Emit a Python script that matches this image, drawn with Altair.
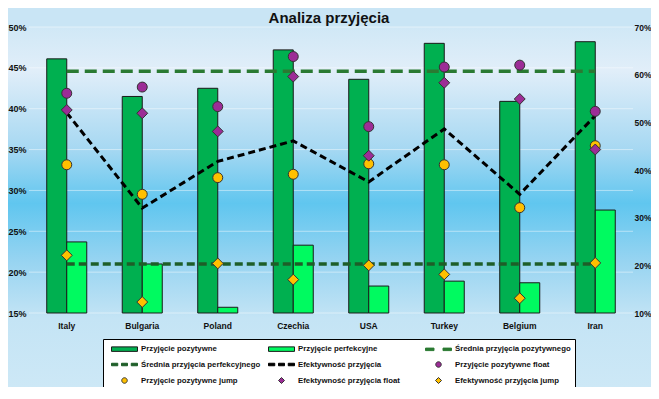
import altair as alt
import pandas as pd

# ---------------- data ----------------
countries = ["Italy", "Bulgaria", "Poland", "Czechia", "USA", "Turkey", "Belgium", "Iran"]

przyjecie_pozytywne = [46.1, 41.5, 42.5, 47.2, 43.6, 48.0, 40.9, 48.2]      # left axis (%)
przyjecie_perfekcyjne = [23.7, 21.0, 15.7, 23.3, 18.3, 18.9, 18.7, 27.6]    # left axis (%)
srednia_pozytywnego = 44.6                                                 # left axis (%)
srednia_perfekcyjnego = 21.0                                               # left axis (%)

efektywnosc = [52.0, 32.0, 41.8, 46.1, 37.5, 48.6, 34.9, 51.4]              # right axis (%)
pozytywne_float = [56.1, 57.4, 53.3, 63.8, 49.1, 61.6, 62.0, 52.3]          # right axis (%)
pozytywne_jump = [41.1, 34.9, 38.4, 39.1, 41.3, 41.1, 32.1, 45.1]           # right axis (%)
efektywnosc_float = [52.6, 51.9, 48.1, 59.6, 43.0, 58.3, 54.9, 44.3]        # right axis (%)
efektywnosc_jump = [22.1, 12.3, 20.4, 17.0, 20.0, 18.1, 13.1, 20.5]         # right axis (%)

series_names = [
    "Przyjęcie pozytywne",
    "Przyjęcie perfekcyjne",
    "Średnia przyjęcia pozytywnego",
    "Średnia przyjęcia perfekcyjnego",
    "Efektywność przyjęcia",
    "Przyjęcie pozytywne float",
    "Przyjęcie pozytywne jump",
    "Efektywność przyjęcia float",
    "Efektywność przyjęcia jump",
]
left_ticks = [15, 20, 25, 30, 35, 40, 45, 50]
right_ticks = [10, 20, 30, 40, 50, 60, 70]

# ---------------- styles ----------------
W, H = 604, 286
PAD = {"left": 21, "top": 19, "right": 18, "bottom": 74}
FONT = "Liberation Sans"

series_colors = ["#00B050", "#00FA60", "#2A7A32", "#1E5E28", "#000000",
                 "#9C2C96", "#FFC000", "#9C2C96", "#FFC000"]
series_strokes = ["#1a1a1a", "#1a1a1a", "#2A7A32", "#1E5E28", "#000000",
                  "#333333", "#333333", "#333333", "#333333"]
RECT = "M-2.6,-0.45H2.6V0.45H-2.6Z"
DASH2 = "M-2.6,-0.25H-0.9V0.25H-2.6ZM0.9,-0.25H2.6V0.25H0.9Z"
DASH3 = ("M-2.6,-0.25H-1.35V0.25H-2.6ZM-0.6,-0.25H0.6V0.25H-0.6Z"
         "M1.35,-0.25H2.6V0.25H1.35Z")
CIRC = "M-0.55,0A0.55,0.55,0,1,0,0.55,0A0.55,0.55,0,1,0,-0.55,0Z"
DIAM = "M-0.6,0L0,-0.6L0.6,0L0,0.6Z"
series_shapes = [RECT, RECT, DASH2, DASH3, DASH3, CIRC, CIRC, DIAM, DIAM]

# ---------------- tables ----------------
pos_rows, perf_rows, avgp_rows, avgf_rows, eff_rows, pts_rows = [], [], [], [], [], []
for i, c in enumerate(countries):
    pos_rows.append({"country": c, "series": series_names[0], "value": przyjecie_pozytywne[i]})
    perf_rows.append({"country": c, "series": series_names[1], "value": przyjecie_perfekcyjne[i]})
    avgp_rows.append({"country": c, "value": srednia_pozytywnego})
    avgf_rows.append({"country": c, "value": srednia_perfekcyjnego})
    eff_rows.append({"country": c, "value": efektywnosc[i]})
ord_ = 0
for name, vals in [(series_names[5], pozytywne_float), (series_names[6], pozytywne_jump),
                   (series_names[7], efektywnosc_float), (series_names[8], efektywnosc_jump)]:
    for i, c in enumerate(countries):
        pts_rows.append({"country": c, "series": name, "value": vals[i], "ord": ord_})
        ord_ += 1

pos_df = pd.DataFrame(pos_rows)
perf_df = pd.DataFrame(perf_rows)
avgp_df = pd.DataFrame(avgp_rows)
avgf_df = pd.DataFrame(avgf_rows)
eff_df = pd.DataFrame(eff_rows)
pts_df = pd.DataFrame(pts_rows)
grid_df = pd.DataFrame({"tick": left_ticks})

# ---------------- scales / axes ----------------
x_axis = alt.Axis(labelAngle=0, ticks=False, domain=False, grid=False, zindex=1,
                  labelFont=FONT, labelFontSize=8.5, labelFontWeight="bold",
                  labelColor="#111111", labelPadding=8)
x_enc = alt.X("country:N", sort=countries, title=None, axis=x_axis,
              scale=alt.Scale(type="band", domain=countries, paddingInner=0.47, paddingOuter=0.235))
xoff_enc = alt.XOffset("series:N", sort=series_names[:2],
                       scale=alt.Scale(domain=series_names[:2], paddingInner=0, paddingOuter=0))

left_scale = alt.Scale(domain=[15, 50], nice=False, zero=False)
right_scale = alt.Scale(domain=[10, 70], nice=False, zero=False)
left_axis = alt.Axis(orient="left", values=left_ticks, labelExpr="datum.value + '%'",
                     grid=False, ticks=False, domain=False, zindex=1,
                     labelFont=FONT, labelFontSize=9,
                     labelFontWeight="bold", labelColor="#111111", labelPadding=3)
right_axis = alt.Axis(orient="right", values=right_ticks, labelExpr="datum.value + '%'",
                      grid=False, ticks=False, domain=False, zindex=1,
                      labelFont=FONT, labelFontSize=8.5,
                      labelFontWeight="bold", labelColor="#111111", labelPadding=1)
yl = alt.Y("value:Q", scale=left_scale, axis=left_axis, title=None)
yr = alt.Y("value:Q", scale=right_scale, axis=right_axis, title=None)

legend = alt.Legend(title=None, orient="none", legendX=74, legendY=312, columns=3,
                    direction="horizontal", gridAlign="all", symbolSize=100,
                    symbolOffset=12, labelOffset=11, symbolStrokeWidth=1,
                    labelFont=FONT, labelFontSize=7.8, labelFontWeight="bold",
                    labelColor="#111111", labelLimit=250, padding=4, rowPadding=5,
                    columnPadding=3, fillColor="white", strokeColor="black", zindex=1)

# ---------------- background ----------------
grad = alt.LinearGradient(
    gradient="linear", x1=0, x2=0, y1=0, y2=1,
    stops=[
        alt.GradientStop(offset=0.0, color="#d0e8f6"),
        alt.GradientStop(offset=0.12, color="#e1eef9"),
        alt.GradientStop(offset=0.34, color="#a6d8f2"),
        alt.GradientStop(offset=0.49, color="#60c6ef"),
        alt.GradientStop(offset=0.65, color="#97d4f1"),
        alt.GradientStop(offset=0.81, color="#c4e4f5"),
        alt.GradientStop(offset=1.0, color="#cde8f6"),
    ],
)
bg = alt.Chart(alt.Data(values=[{"a": 1}])).mark_rect(fill=grad, strokeWidth=0).encode(
    x=alt.value(-PAD["left"]), x2=alt.value(W + PAD["right"]),
    y=alt.value(0), y2=alt.value(H + PAD["bottom"]),
)

# white gridlines at the left-axis ticks (behind bars)
grid = alt.Chart(grid_df).mark_rule(color="white", opacity=0.45, strokeWidth=1).encode(
    y=alt.Y("tick:Q", scale=left_scale, axis=left_axis, title=None),
)

# ---------------- layers ----------------
bars_pos = alt.Chart(pos_df).mark_bar(color=series_colors[0], stroke="#1a1a1a", strokeWidth=1).encode(
    x=x_enc, xOffset=xoff_enc, y=yl, y2=alt.datum(15))
bars_perf = alt.Chart(perf_df).mark_bar(color=series_colors[1], stroke="#1a1a1a", strokeWidth=1).encode(
    x=x_enc, xOffset=xoff_enc, y=yl, y2=alt.datum(15))

avg_pos = alt.Chart(avgp_df).mark_line(
    color=series_colors[2], strokeWidth=3.5, strokeDash=[12, 6]).encode(x=x_enc, y=yl)
avg_perf = alt.Chart(avgf_df).mark_line(
    color=series_colors[3], strokeWidth=3.5, strokeDash=[8, 4]).encode(x=x_enc, y=yl)

eff = alt.Chart(eff_df).mark_line(
    color=series_colors[4], strokeWidth=3, strokeDash=[7, 4]).encode(x=x_enc, y=yr)

pts = alt.Chart(pts_df).mark_point(filled=True, opacity=1, size=330, strokeWidth=1).encode(
    x=x_enc,
    y=yr,
    color=alt.Color("series:N", scale=alt.Scale(domain=series_names, range=series_colors), legend=legend),
    shape=alt.Shape("series:N", scale=alt.Scale(domain=series_names, range=series_shapes), legend=legend),
    stroke=alt.Stroke("series:N", scale=alt.Scale(domain=series_names, range=series_strokes), legend=legend),
    order=alt.Order("ord:Q"),
)

left = alt.layer(bg, grid, bars_pos, bars_perf, avg_pos, avg_perf)
right = alt.layer(eff, pts)

chart = alt.layer(left, right).resolve_scale(y="independent").properties(
    width=W, height=H,
    padding=PAD,
    autosize=alt.AutoSizeParams(type="none"),
    background="#c9e5f5",
    title=alt.TitleParams("Analiza przyjęcia", font=FONT, fontSize=15, fontWeight="bold",
                          color="#111111", anchor="middle", offset=2, dx=-2, dy=5, zindex=1),
).configure_view(stroke=None)

chart.save("out.html", embed_options={"renderer": "svg", "actions": False})
